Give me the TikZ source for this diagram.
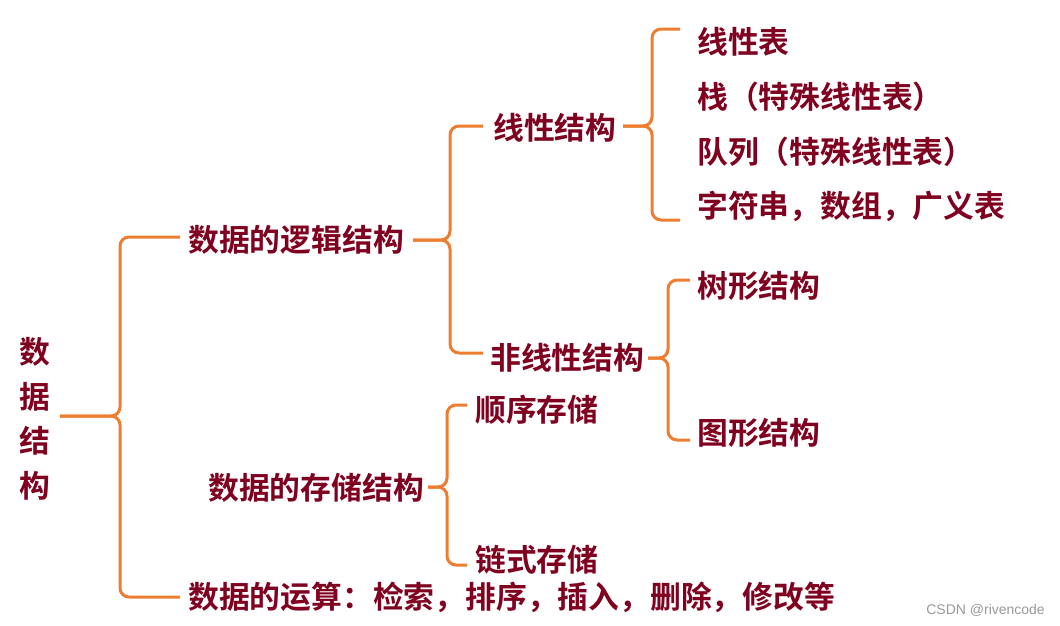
\documentclass[tikz,border=0pt]{standalone}
\usepackage{fontspec}
\newfontfamily\cjk{Noto Sans CJK SC}[BoldFont={Noto Sans CJK SC Bold}]
\newfontfamily\wm{Liberation Sans}
\definecolor{txt}{RGB}{128,0,32}
\definecolor{org}{RGB}{237,125,49}
\begin{document}
\begin{tikzpicture}[x=1pt,y=-1pt,
  lbl/.style={anchor=west,inner sep=0pt,text=txt,font=\cjk\bfseries\fontsize{30.8}{36}\selectfont},
  br/.style={draw=org,line width=3pt,rounded corners=9pt}]
\useasboundingbox (0,0) rectangle (1060,625);
% root
\node[lbl,anchor=center,align=center,font=\cjk\bfseries\fontsize{30.8}{44.5}\selectfont] (root) at (35,419) {数\\据\\结\\构};
% level 2
\node[lbl] (logic) at (188,240) {数据的逻辑结构};
\node[lbl] (store) at (208,488) {数据的存储结构};
\node[lbl] (ops) at (188,597) {数据的运算：检索，排序，插入，删除，修改等};
% level 3
\node[lbl] (lin) at (493,128) {线性结构};
\node[lbl] (nonlin) at (490,358) {非线性结构};
\node[lbl] (seq) at (475,410) {顺序存储};
\node[lbl] (link) at (475,560) {链式存储};
% level 4
\node[lbl] (i1) at (697,42) {线性表};
\node[lbl] (i2) at (697,97) {栈（特殊线性表）};
\node[lbl] (i3) at (697,152) {队列（特殊线性表）};
\node[lbl] (i4) at (697,206) {字符串，数组，广义表};
\node[lbl] (tree) at (697,286) {树形结构};
\node[lbl] (graph) at (697,433) {图形结构};
% watermark
\node[anchor=east,inner sep=0pt,text=gray!80,font=\wm\fontsize{14}{16}\selectfont] (wmk) at (1045,610) {CSDN @rivencode};
% brace tips
\coordinate (t1) at (60,416);  \coordinate (v1) at (120,416);
\coordinate (t2) at (413,240); \coordinate (v2) at (450,240);
\coordinate (t3) at (623,126); \coordinate (v3) at (652,126);
\coordinate (t4) at (648,358); \coordinate (v4) at (668,358);
\coordinate (t5) at (428,487); \coordinate (v5) at (447,487);
% braces
\draw[br] (t1) -- (v1) |- ([xshift=-8pt,yshift=3pt]logic.west);
\draw[br] (t1) -- (v1) |- ([xshift=-8pt]ops.west);
\draw[br] (t2) -- (v2) |- ([xshift=-10pt,yshift=2pt]lin.west);
\draw[br] (t2) -- (v2) |- ([xshift=-7pt,yshift=5pt]nonlin.west);
\draw[br] (t3) -- (v3) |- ([xshift=-17pt,yshift=13pt]i1.west);
\draw[br] (t3) -- (v3) |- ([xshift=-17pt,yshift=-14pt]i4.west);
\draw[br] (t4) -- (v4) |- ([xshift=-7pt,yshift=6pt]tree.west);
\draw[br] (t4) -- (v4) |- ([xshift=-7pt,yshift=-7pt]graph.west);
\draw[br] (t5) -- (v5) |- ([xshift=-8pt,yshift=5pt]seq.west);
\draw[br] (t5) -- (v5) |- ([xshift=-8pt,yshift=-5pt]link.west);
\end{tikzpicture}
\end{document}
